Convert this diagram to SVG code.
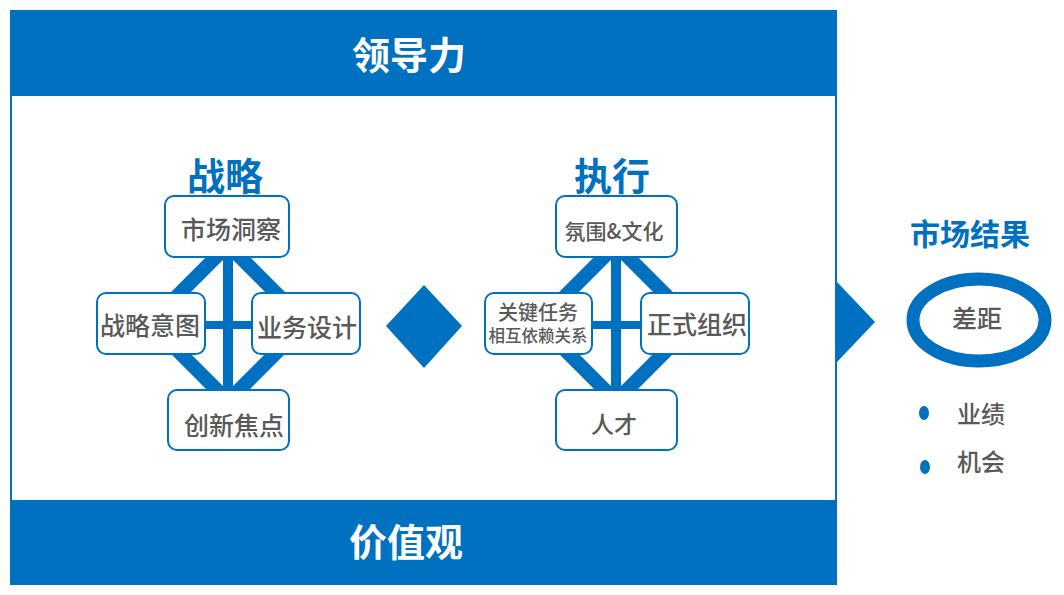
<svg xmlns="http://www.w3.org/2000/svg" width="1064" height="595" viewBox="0 0 1064 595">
<style>
.band{fill:#0070C0}
.frame{fill:#fff;stroke:#0070C0;stroke-width:2}
.box{fill:#fff;stroke:#0070C0;stroke-width:2}
.ttl{font-family:"Noto Sans CJK SC",sans-serif;font-weight:bold;fill:#0070C0;text-anchor:middle;dominant-baseline:central}
.wt{font-family:"Noto Sans CJK SC",sans-serif;font-weight:bold;fill:#fff;text-anchor:middle;dominant-baseline:central;font-size:38px}
.lbl{font-family:"Noto Sans CJK SC",sans-serif;fill:#595959;text-anchor:middle;dominant-baseline:central;font-weight:500}
.dia{fill:none;stroke:#0070C0;stroke-width:14;stroke-linejoin:miter}
.bar{stroke:#0070C0}
</style>
<g id="frame">
<rect class="frame" x="11" y="11" width="825" height="573"/>
<rect class="band" x="10" y="10" width="827" height="86"/>
<rect class="band" x="10" y="500" width="827" height="85"/>
<text class="wt" x="409" y="52">领导力</text>
<text class="wt" x="406" y="539">价值观</text>
</g>
<g id="connectors">
<polygon class="dia" points="228,245 150,323 228,401 306,323"/>
<line class="bar" x1="228" y1="255" x2="228" y2="392" stroke-width="10"/>
<line class="bar" x1="204" y1="325" x2="253" y2="325" stroke-width="8"/>
<polygon class="dia" points="616,245 538,323 616,401 694,323"/>
<line class="bar" x1="616" y1="255" x2="616" y2="392" stroke-width="10"/>
<line class="bar" x1="591" y1="325" x2="642" y2="325" stroke-width="8"/>
</g>
<g id="strategy">
<text class="ttl" x="225" y="173" font-size="38">战略</text>
<g id="n-market"><rect class="box" x="165" y="196" width="124" height="61" rx="9"/><text class="lbl" x="231" y="228" font-size="25">市场洞察</text></g>
<g id="n-intent"><rect class="box" x="97" y="293" width="108" height="61" rx="9"/><text class="lbl" x="150" y="324" font-size="25">战略意图</text></g>
<g id="n-design"><rect class="box" x="252" y="293" width="108" height="61" rx="9"/><text class="lbl" x="307" y="326" font-size="25">业务设计</text></g>
<g id="n-innov"><rect class="box" x="168" y="390" width="121" height="60" rx="9"/><text class="lbl" x="234" y="424" font-size="25">创新焦点</text></g>
</g>
<g id="center-diamond"><polygon class="band" points="424,285 462,326 424,368 386,326"/></g>
<g id="execution">
<text class="ttl" x="612" y="173" font-size="38">执行</text>
<g id="n-culture"><rect class="box" x="556" y="196" width="121" height="61" rx="9"/><text class="lbl" x="614" y="230" font-size="21">氛围&amp;文化</text></g>
<g id="n-tasks"><rect class="box" x="485" y="293" width="107" height="61" rx="9"/><text class="lbl" x="538" y="311" font-size="20">关键任务</text><text class="lbl" x="538" y="335" font-size="16.5">相互依赖关系</text></g>
<g id="n-org"><rect class="box" x="641" y="293" width="108" height="61" rx="9"/><text class="lbl" x="697" y="323" font-size="25">正式组织</text></g>
<g id="n-talent"><rect class="box" x="556" y="390" width="121" height="60" rx="9"/><text class="lbl" x="614" y="423" font-size="23">人才</text></g>
</g>
<g id="result">
<polygon class="band" points="837,282 875,322 837,362"/>
<text class="ttl" x="970" y="232" font-size="30">市场结果</text>
<ellipse cx="979" cy="320" rx="66" ry="41" fill="#fff" stroke="#0070C0" stroke-width="13"/>
<text class="lbl" x="977" y="317" font-size="25">差距</text>
<ellipse class="band" cx="924" cy="413" rx="5" ry="7"/>
<text class="lbl" x="981" y="412" font-size="24">业绩</text>
<ellipse class="band" cx="925" cy="467" rx="5" ry="7"/>
<text class="lbl" x="981" y="460" font-size="24">机会</text>
</g>
</svg>
